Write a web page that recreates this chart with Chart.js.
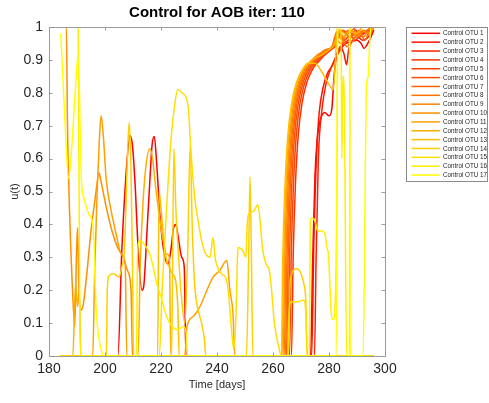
<!DOCTYPE html>
<html><head><meta charset="utf-8">
<script src="https://cdn.jsdelivr.net/npm/chart.js@4.4.0/dist/chart.umd.min.js"></script>
<style>html,body{margin:0;padding:0;background:#fff;}canvas{display:block;}</style>
</head><body>
<canvas id="c" width="489" height="403"></canvas>
<script>
const titleText = 'Control for AOB iter: 110';
const xLabel = 'Time [days]';
const yLabel = 'u(t)';
const xTicks = [180, 200, 220, 240, 260, 280, 300];
const yTicks = [0, 0.1, 0.2, 0.3, 0.4, 0.5, 0.6, 0.7, 0.8, 0.9, 1];
const otuLabels = ['Control OTU 1','Control OTU 2','Control OTU 3','Control OTU 4','Control OTU 5','Control OTU 6','Control OTU 7','Control OTU 8','Control OTU 9','Control OTU 10','Control OTU 11','Control OTU 12','Control OTU 13','Control OTU 14','Control OTU 15','Control OTU 16','Control OTU 17'];
const otuColors = ['#ff0000','#ff1000','#ff2000','#ff3000','#ff4000','#ff5000','#ff6000','#ff7000','#ff8000','#ff8f00','#ff9f00','#ffaf00','#ffbf00','#ffcf00','#ffdf00','#ffef00','#ffff00'];

// [day, u] pairs
const otu1 = [[184,0],[204.6,0],[206,0.32],[207.5,0.55],[208.9,0.67],[209.8,0.64],[210.7,0.53],[212,0.3],[213.2,0.2],[213.8,0.21],[215,0.38],[216,0.53],[216.8,0.64],[217.6,0.667],[218.5,0.58],[219.6,0.43],[220.5,0.35],[221.4,0.3],[222.5,0.28],[223.5,0.32],[224.5,0.39],[225.3,0.4],[226,0.37],[227.4,0.3],[228.3,0.27],[228.9,0],[273.4,0],[274.2,0.3],[275,0.55],[275.8,0.66],[277,0.72],[278.5,0.74],[280,0.73],[281,0.75],[281.8,0.85],[282.5,0.9],[284,0.93],[286,0.95],[288,0.955],[290,0.96],[291.5,0.95],[292.5,0.935],[293.5,0.945],[295,0.97],[296,0.99]];
const otu2 = [[184,0],[273.8,0],[274.6,0.35],[275.6,0.62],[276.5,0.74],[278,0.82],[279.5,0.86],[281,0.88],[282.5,0.91],[284,0.94],[285.3,0.92],[286.3,0.885],[287,0.93],[288.5,0.96],[290,0.97],[292,0.96],[293.5,0.965],[295,0.98],[296,0.99]];
const otu3 = [[184,0],[274.8,0],[275.4,0.3],[276.2,0.6],[277.5,0.75],[279,0.83],[280.5,0.87],[282,0.9],[283.5,0.93],[285,0.95],[287,0.96],[289,0.98],[291,0.97],[293,0.985],[296,1]];
const otu4 = [[184,0],[266.6,0],[267.2,0.3],[268,0.52],[269,0.67],[270.4,0.77],[272,0.83],[274,0.87],[276.3,0.895],[278.5,0.915],[280.7,0.93],[282.4,0.945],[283.8,0.98],[285.5,0.96],[287.5,0.975],[289.5,0.96],[291.5,0.98],[293.5,0.985],[296,1]];
const otu5 = [[184,0],[265.9,0],[266.5,0.3],[267.3,0.52],[268.3,0.67],[269.7,0.77],[271.3,0.83],[273.3,0.87],[275.6,0.895],[277.9,0.915],[280.1,0.93],[282,0.945],[283.5,0.99],[285.5,0.985],[287.5,0.97],[289.5,0.99],[291.5,0.975],[293.5,0.99],[296,1]];
const otu6 = [[184,0],[265.3,0],[265.9,0.3],[266.7,0.52],[267.7,0.67],[269.1,0.77],[270.7,0.83],[272.7,0.87],[275,0.895],[277.3,0.915],[279.5,0.93],[281.7,0.94],[283.3,0.97],[285,0.99],[287,0.98],[289,0.995],[291,0.97],[293,0.985],[296,1]];
const otu7 = [[184,0],[264.8,0],[265.4,0.3],[266.2,0.52],[267.2,0.67],[268.6,0.77],[270.2,0.83],[272.2,0.87],[274.5,0.895],[276.8,0.915],[279,0.93],[281.3,0.94],[283,0.975],[284.8,0.96],[286.8,0.99],[288.8,0.975],[290.8,0.99],[292.8,0.96],[294.5,0.99],[296,1]];
const otu8 = [[184,0],[264.4,0],[265,0.3],[265.8,0.52],[266.8,0.67],[268.2,0.77],[269.8,0.83],[271.8,0.87],[274,0.895],[276.3,0.915],[278.6,0.93],[281,0.94],[282.8,0.985],[284.5,0.97],[286.5,0.94],[288.5,0.98],[290.5,0.97],[292.5,0.99],[294.5,0.975],[296,1]];
const otu9 = [[184,0],[264,0],[264.6,0.3],[265.4,0.52],[266.4,0.67],[267.8,0.77],[269.4,0.83],[271.4,0.87],[273.6,0.895],[275.9,0.915],[278.2,0.925],[280.7,0.935],[282.6,0.96],[284.3,0.95],[286.3,0.975],[288.3,0.955],[290.3,0.985],[292.3,0.97],[294.3,0.995],[296,1]];
const otu10 = [[184,1],[186.2,1],[186.6,0.7],[187.3,0.45],[188.3,0.22],[189.2,0.09],[189.8,0.3],[190.2,0.39],[190.7,0.2],[191.3,0.14],[192.1,0.15],[193.5,0.25],[195,0.38],[196.5,0.48],[197.9,0.556],[198.6,0.53],[200.5,0.45],[202.5,0.38],[204.5,0.33],[206.5,0.3],[208,0.26],[209.3,0.2],[209.8,0],[263.6,0],[264.2,0.3],[265,0.52],[266,0.67],[267.4,0.77],[269,0.83],[271,0.87],[273.3,0.895],[275.5,0.91],[278,0.92],[280.5,0.935],[282.5,0.95],[284,0.99],[286,0.98],[288,0.99],[290,0.97],[292,0.99],[294,0.98],[296,1]];
const otu11 = [[184,0],[195.6,0],[196.3,0.25],[197.2,0.5],[198,0.66],[198.6,0.73],[199.4,0.67],[200.4,0.54],[202,0.45],[204,0.37],[205.8,0.31],[207.2,0.28],[207.8,0],[228.5,0],[229.3,0.09],[231.5,0.12],[233.9,0.15],[236.4,0.2],[238.6,0.24],[241,0.26],[243.5,0.29],[244.6,0.2],[245.7,0.13],[246.4,0],[296,0]];
const otu12 = [[184,0],[188.5,0],[189.5,0.22],[190.2,0.15],[190.8,0.2],[191.4,0],[211.8,0],[212.6,0.28],[213.6,0.47],[214.8,0.59],[216,0.63],[217,0.6],[218,0.52],[219.5,0.42],[220.8,0.35],[222,0.31],[223,0.3],[223.5,0],[263.2,0],[263.8,0.3],[264.6,0.52],[265.6,0.67],[267,0.77],[268.6,0.83],[270.6,0.87],[272.8,0.89],[275,0.905],[277.5,0.915],[280,0.93],[282,0.95],[283.5,0.99],[285.5,0.97],[287.5,0.99],[290,0.98],[292,1],[296,1]];
const otu13 = [[184,0],[218.8,0],[219.3,0.5],[220,0.45],[221,0.35],[222,0.29],[223,0.27],[224,0.25],[225.2,0.23],[226,0.15],[226.5,0],[263,0],[263.5,0.3],[264.3,0.52],[265.3,0.67],[266.7,0.77],[268.3,0.83],[270.5,0.87],[272.5,0.89],[275,0.89],[277,0.87],[279,0.84],[281.5,0.81],[282.3,0.9],[283,1],[296,1]];
const otu14 = [[184,0],[200.5,0],[200.8,0.2],[201.5,0.245],[203,0.25],[205,0.24],[206,0.27],[207,0.33],[207.8,0.55],[208.6,0.71],[209.2,0.6],[209.8,0.3],[210.2,0],[223.8,0],[224.6,0.63],[225.3,0.45],[226.3,0.3],[227.3,0.18],[228.5,0.1],[229.5,0.3],[230.4,0.64],[231.2,0.38],[232,0.22],[233,0.15],[234.5,0.1],[235.5,0.05],[236,0],[250.5,0],[251.3,0.3],[251.8,0.545],[252.3,0.3],[252.8,0],[265.5,0],[266,0.2],[266.7,0.25],[268.5,0.265],[270,0.25],[271,0.22],[271.7,0.17],[272.2,0],[296,0]];
const otu15 = [[184,0],[219.4,0],[220.4,0.2],[222,0.45],[223.5,0.65],[225,0.77],[226,0.81],[227.5,0.8],[229,0.785],[229.8,0.75],[230.5,0.65],[231.5,0.53],[232.5,0.45],[233.5,0.4],[234.5,0.35],[236,0.31],[237.5,0.3],[238.6,0.36],[239.3,0.3],[240.2,0.27],[241.5,0.25],[243,0.24],[244,0.2],[245,0.1],[246,0.02],[246.8,0.13],[247.3,0.3],[247.6,0.33],[249.3,0.32],[250.3,0.3],[250.8,0.4],[251.2,0.43],[253,0.44],[254.6,0.46],[255.5,0.4],[256.2,0.33],[257.5,0.28],[258.7,0.26],[259.5,0.2],[260.5,0.1],[262,0.03],[263,0],[265.3,0],[265.8,0.14],[266.5,0.165],[269,0.165],[271,0.17],[271.8,0.12],[272.3,0],[296,0]];
const otu16 = [[184,1],[190.4,1],[190.8,0.4],[191.2,0],[211.2,0],[211.6,0.3],[212.3,0.35],[214,0.34],[216,0.31],[217.5,0.26],[218.5,0.22],[220,0.18],[222,0.12],[224,0.09],[226,0.08],[228,0.09],[229,0.07],[229.5,0],[273,0],[273.3,0.4],[273.8,0.42],[275,0.41],[276,0.38],[277.4,0.38],[278.6,0.37],[279.2,0.33],[279.8,0.31],[280.4,0.2],[280.8,0.13],[281.5,0.11],[282.3,0.18],[282.8,0.5],[283.1,1],[284.3,1],[284.6,0.6],[285,0.85],[285.5,0.75],[286.3,0],[287.3,0],[287.5,1],[296,1]];
const otu17 = [[184.2,0.98],[185.5,0.75],[187,0.54],[188,0.62],[189.5,0.82],[190.5,0.92],[191.1,0.7],[191.6,0.53],[192.5,0.48],[194.3,0.43],[195.8,0.39],[196.8,0.15],[197.9,0.05],[199.9,0],[282.6,0],[283.1,1],[287.3,1],[287.6,0],[292.2,0],[292.9,0.5],[293.3,0.81],[294,0.85],[294.5,0.95],[295,1],[296,1]];

const series = [otu1, otu2, otu3, otu4, otu5, otu6, otu7, otu8, otu9, otu10, otu11, otu12, otu13, otu14, otu15, otu16, otu17];

const FONT = "'Liberation Sans', Arial, Helvetica, sans-serif";

const datasets = series.map((pts, i) => ({
  label: otuLabels[i],
  data: pts.map(p => ({ x: p[0], y: p[1] })),
  borderColor: otuColors[i],
  backgroundColor: otuColors[i],
  borderWidth: 1.5,
  pointRadius: 0,
  fill: false,
  tension: 0,
  cubicInterpolationMode: 'monotone',
  order: series.length - 1 - i
}));

const decor = {
  id: 'decor',
  afterDraw(chart) {
    const ctx = chart.ctx;
    const a = chart.chartArea;
    const xs = chart.scales.x, ys = chart.scales.y;
    ctx.save();
    ctx.strokeStyle = '#9a9a9a';
    ctx.lineWidth = 1;
    ctx.strokeRect(Math.round(a.left) + 0.5, Math.round(a.top) + 0.5, Math.round(a.right - a.left), Math.round(a.bottom - a.top));
    ctx.beginPath();
    xTicks.forEach(v => {
      const px = Math.round(xs.getPixelForValue(v)) + 0.5;
      ctx.moveTo(px, a.bottom); ctx.lineTo(px, a.bottom - 3.5);
      ctx.moveTo(px, a.top); ctx.lineTo(px, a.top + 3.5);
    });
    yTicks.forEach(v => {
      const py = Math.round(ys.getPixelForValue(v)) + 0.5;
      ctx.moveTo(a.left, py); ctx.lineTo(a.left + 3.5, py);
      ctx.moveTo(a.right, py); ctx.lineTo(a.right - 3.5, py);
    });
    ctx.stroke();
    ctx.fillStyle = '#000';
    ctx.font = 'bold 15px ' + FONT;
    ctx.textAlign = 'center';
    ctx.textBaseline = 'middle';
    ctx.fillText(titleText, (a.left + a.right) / 2, 13);
    ctx.fillStyle = '#262626';
    ctx.font = '11px ' + FONT;
    ctx.fillText(xLabel, (a.left + a.right) / 2, 385);
    ctx.save();
    ctx.translate(15, (a.top + a.bottom) / 2);
    ctx.rotate(-Math.PI / 2);
    ctx.fillText(yLabel, 0, 0);
    ctx.restore();
    const lx = 406, ly = 27, lw = 82, lh = 154;
    ctx.fillStyle = '#fff';
    ctx.fillRect(lx, ly, lw, lh);
    ctx.strokeStyle = '#8c8c8c';
    ctx.strokeRect(lx + 0.5, ly + 0.5, lw - 1, lh);
    ctx.font = '6.3px ' + FONT;
    ctx.textAlign = 'left';
    ctx.textBaseline = 'middle';
    chart.data.datasets.forEach((ds, i) => {
      const y = 33.3 + i * 8.86;
      ctx.strokeStyle = ds.borderColor;
      ctx.lineWidth = 1.5;
      ctx.beginPath();
      ctx.moveTo(411.5, y); ctx.lineTo(440, y);
      ctx.stroke();
      ctx.fillStyle = '#262626';
      ctx.fillText(ds.label, 443, y + 0.3);
    });
    ctx.restore();
  }
};

new Chart(document.getElementById('c'), {
  type: 'line',
  data: { datasets },
  options: {
    responsive: false,
    animation: false,
    devicePixelRatio: 1,
    layout: { padding: { left: 0, top: 27, right: 104, bottom: 0 } },
    plugins: { legend: { display: false }, tooltip: { enabled: false }, title: { display: false } },
    scales: {
      x: {
        type: 'linear', min: 180, max: 300,
        afterBuildTicks(s) { s.ticks = xTicks.map(v => ({ value: v })); },
        afterFit(s) { s.height = 47; },
        grid: { display: false, drawTicks: false },
        border: { display: false },
        ticks: { padding: 5, color: '#262626', font: { family: FONT, size: 14 }, maxRotation: 0, autoSkip: false, callback: v => String(v) }
      },
      y: {
        type: 'linear', min: 0, max: 1,
        afterBuildTicks(s) { s.ticks = yTicks.map(v => ({ value: v })); },
        afterFit(s) { s.width = 49; },
        grid: { display: false, drawTicks: false },
        border: { display: false },
        ticks: { padding: 6, color: '#262626', font: { family: FONT, size: 14 }, autoSkip: false, callback: v => (v === 0 ? '0' : v === 1 ? '1' : v.toFixed(1)) }
      }
    }
  },
  plugins: [decor]
});
</script>
</body></html>
